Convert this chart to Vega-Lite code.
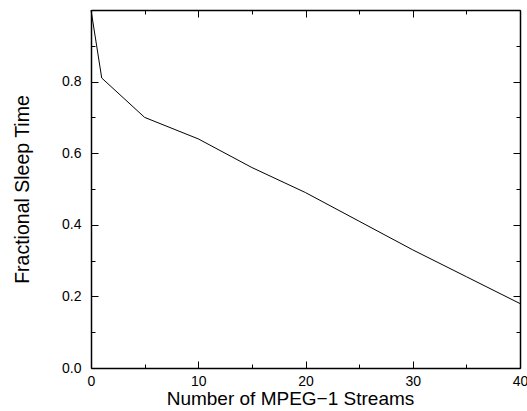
{
  "$schema": "https://vega.github.io/schema/vega-lite/v6.json",
  "width": 429,
  "height": 358,
  "autosize": {"type": "none"},
  "padding": {"left": 91, "top": 10, "right": 7, "bottom": 43},
  "background": "white",
  "config": {
    "view": {"stroke": null},
    "font": "Liberation Sans",
    "axis": {
      "domainColor": "black",
      "domainWidth": 1.5,
      "tickColor": "black",
      "tickWidth": 1,
      "grid": false,
      "labelColor": "black",
      "titleColor": "black",
      "labelFont": "Liberation Sans",
      "titleFont": "Liberation Sans",
      "labelFontSize": 14,
      "titleFontSize": 18,
      "titleFontWeight": "normal"
    }
  },
  "data": {
    "values": [
      {"streams": 0, "sleep": 1.0},
      {"streams": 1, "sleep": 0.81},
      {"streams": 5, "sleep": 0.70},
      {"streams": 10, "sleep": 0.64},
      {"streams": 15, "sleep": 0.56},
      {"streams": 20, "sleep": 0.49},
      {"streams": 25, "sleep": 0.41},
      {"streams": 30, "sleep": 0.33},
      {"streams": 35, "sleep": 0.255},
      {"streams": 40, "sleep": 0.18}
    ]
  },
  "resolve": {"axis": {"x": "independent", "y": "independent"}},
  "layer": [
    {
      "mark": {"type": "line", "color": "black", "strokeWidth": 1},
      "encoding": {
        "x": {
          "field": "streams",
          "type": "quantitative",
          "scale": {"domain": [0, 40], "nice": false, "zero": false},
          "axis": {
            "orient": "bottom",
            "values": [0, 5, 10, 15, 20, 25, 30, 35, 40],
            "labelExpr": "datum.value % 10 === 0 ? datum.label : ''",
            "tickSize": {"condition": {"test": "datum.value % 10 === 0", "value": -7}, "value": -4},
            "labelPadding": 13,
            "labelFlush": false,
            "title": "Number of MPEG−1 Streams",
            "titleFontSize": 19,
            "titlePadding": 1,
            "titleX": 199,
            "titleAlign": "center"
          }
        },
        "y": {
          "field": "sleep",
          "type": "quantitative",
          "scale": {"domain": [0, 1], "nice": false},
          "axis": {
            "orient": "left",
            "values": [0, 0.1, 0.2, 0.3, 0.4, 0.5, 0.6, 0.7, 0.8, 0.9, 1.0],
            "labelExpr": "(datum.value < 0.95 && round(datum.value * 10) % 2 === 0) ? format(datum.value, '.1f') : ''",
            "tickSize": {"condition": {"test": "round(datum.value * 10) % 2 === 0", "value": -7}, "value": -4},
            "labelPadding": 17,
            "labelFlush": false,
            "title": "Fractional Sleep Time",
            "titleFontSize": 19.5,
            "titlePadding": 29
          }
        }
      }
    },
    {
      "mark": {"type": "line", "opacity": 0},
      "encoding": {
        "x": {
          "field": "streams",
          "type": "quantitative",
          "axis": {
            "orient": "top",
            "values": [0, 5, 10, 15, 20, 25, 30, 35, 40],
            "labels": false,
            "tickSize": {"condition": {"test": "datum.value % 10 === 0", "value": -7}, "value": -4},
            "title": null
          }
        },
        "y": {
          "field": "sleep",
          "type": "quantitative",
          "axis": {
            "orient": "right",
            "values": [0, 0.1, 0.2, 0.3, 0.4, 0.5, 0.6, 0.7, 0.8, 0.9, 1.0],
            "labels": false,
            "tickSize": {"condition": {"test": "round(datum.value * 10) % 2 === 0", "value": -7}, "value": -4},
            "title": null
          }
        }
      }
    }
  ]
}
